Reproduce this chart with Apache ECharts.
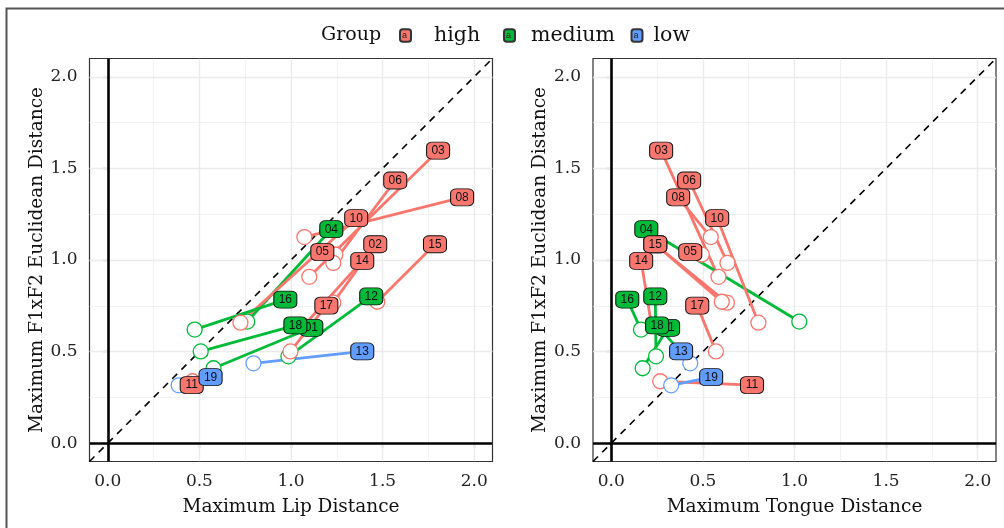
<!DOCTYPE html>
<html><head><meta charset="utf-8">
<script src="https://cdn.jsdelivr.net/npm/echarts@6/dist/echarts.min.js"></script>
<style>html,body{margin:0;padding:0;background:#fff}#c{width:1004px;height:528px}</style>
</head><body><div id="c"></div>
<script>
// ---- data ----
const ids      = ['01','02','03','04','05','06','08','10','11','12','13','14','15','16','17','18','19'];
const groups   = ['medium','high','high','medium','high','high','high','high','high','medium','low','high','high','medium','high','medium','low'];
// labelled point (box)
const labelY   = [0.630,1.086,1.597,1.168,1.043,1.434,1.342,1.228,0.317,0.801,0.501,0.995,1.086,0.784,0.751,0.643,0.360];
const labelLip = [1.111,1.460,1.803,1.220,1.171,1.569,1.934,1.356,0.458,1.438,1.389,1.389,1.786,0.969,1.193,1.024,0.561];
const labelTon = [0.310,0.240,0.272,0.191,0.431,0.425,0.365,0.578,0.768,0.240,0.381,0.163,0.240,0.087,0.469,0.250,0.545];
// open circle
const circY    = [0.409,0.767,0.908,0.664,1.030,0.984,1.125,0.658,0.338,0.474,0.436,0.640,0.772,0.620,0.501,0.501,0.316];
const circLip  = [0.577,1.231,1.100,0.761,1.242,1.231,1.073,0.724,0.463,0.986,0.795,1.068,1.471,0.474,0.997,0.507,0.387];
const circTon  = [0.171,0.631,0.585,1.026,0.494,0.634,0.543,0.803,0.267,0.244,0.431,0.220,0.603,0.162,0.571,0.376,0.327];

const groupNames = ['high','medium','low'];
const groupColors = ['#F8766D','#00BA38','#619CFF'];
const tickValues = [0, 0.5, 1, 1.5, 2];
const tickLabels = ['0.0','0.5','1.0','1.5','2.0'];
const minorValues = [0.25, 0.75, 1.25, 1.75];
const xTitles = ['Maximum Lip Distance', 'Maximum Tongue Distance'];
const yTitle = 'Maximum F1xF2 Euclidean Distance';
const legendTitle = 'Group';

const colorOf = g => groupColors[groupNames.indexOf(g)];
const SERIF = 'DejaVu Serif';
const LO = -0.1, HI = 2.1;

const grids = [
  {left: 89.5, top: 58.5, width: 403, height: 403, show: true, borderColor: '#333', borderWidth: 1.2, backgroundColor: 'transparent'},
  {left: 593, top: 58.5, width: 403, height: 403, show: true, borderColor: '#333', borderWidth: 1.2, backgroundColor: 'transparent'}
];
const tickFmt = v => { const i = tickValues.indexOf(Math.round(v * 100) / 100); return i >= 0 ? tickLabels[i] : ''; };

function mkAxis(i, isX) {
  return {
    gridIndex: i, type: 'value', min: LO, max: HI,
    name: isX ? xTitles[i] : yTitle, nameLocation: 'middle', nameGap: isX ? 36 : 42,
    nameTextStyle: {fontFamily: SERIF, fontSize: 18.5, color: '#111'},
    axisLine: {show: false},
    axisTick: {show: true, length: 5, lineStyle: {color: '#333', width: 1.2}, customValues: tickValues},
    axisLabel: {show: true, margin: isX ? 11.5 : 12, fontFamily: SERIF, fontSize: 17, color: '#222',
      customValues: tickValues, formatter: tickFmt},
    splitLine: {show: false}
  };
}

const series = [];
[0, 1].forEach(p => {
  const xs = p === 0 ? labelLip : labelTon;
  const cxs = p === 0 ? circLip : circTon;
  // grid lines
  const gl = [];
  minorValues.forEach(v => {
    gl.push({coords: [[v, LO], [v, HI]], lineStyle: {width: 0.7}});
    gl.push({coords: [[LO, v], [HI, v]], lineStyle: {width: 0.7}});
  });
  tickValues.forEach(v => {
    gl.push({coords: [[v, LO], [v, HI]], lineStyle: {width: 1.4}});
    gl.push({coords: [[LO, v], [HI, v]], lineStyle: {width: 1.4}});
  });
  series.push({type: 'lines', coordinateSystem: 'cartesian2d', xAxisIndex: p, yAxisIndex: p, silent: true, z: 1,
    lineStyle: {color: '#ebebeb', opacity: 1}, data: gl});
  // zero lines
  series.push({type: 'lines', coordinateSystem: 'cartesian2d', xAxisIndex: p, yAxisIndex: p, silent: true, z: 2,
    lineStyle: {color: '#000', width: 2.6, opacity: 1},
    data: [{coords: [[0, LO], [0, HI]]}, {coords: [[LO, 0], [HI, 0]]}]});
  // identity line
  series.push({type: 'lines', coordinateSystem: 'cartesian2d', xAxisIndex: p, yAxisIndex: p, silent: true, z: 3,
    lineStyle: {color: '#000', width: 1.6, type: [7, 6], opacity: 1},
    data: [{coords: [[LO, LO], [HI, HI]]}]});
  // segments
  series.push({type: 'lines', coordinateSystem: 'cartesian2d', xAxisIndex: p, yAxisIndex: p, silent: true, z: 4,
    data: ids.map((id, k) => ({coords: [[cxs[k], circY[k]], [xs[k], labelY[k]]],
      lineStyle: {color: colorOf(groups[k]), width: 2.8, opacity: 1}}))});
  // circles
  series.push({type: 'scatter', xAxisIndex: p, yAxisIndex: p, silent: true, z: 5, symbol: 'circle', symbolSize: 15,
    data: ids.map((id, k) => ({value: [cxs[k], circY[k]],
      itemStyle: {color: '#fff', borderColor: colorOf(groups[k]), borderWidth: 1.3, opacity: 1}}))});
  // labels: one series per subject so later boxes cover earlier ones (box + text together)
  ids.forEach((id, k) => {
    series.push({type: 'scatter', xAxisIndex: p, yAxisIndex: p, silent: true, z: 10 + k, symbol: 'roundRect', symbolSize: [23, 17],
      data: [{name: id, value: [xs[k], labelY[k]],
        itemStyle: {color: colorOf(groups[k]), borderColor: '#111', borderWidth: 0.9, opacity: 1}}],
      label: {show: true, position: 'inside', formatter: pr => pr.name, fontFamily: 'Liberation Sans', fontSize: 12, color: '#111'}});
  });
});
// legend carriers
groupNames.forEach((g, i) => {
  series.push({type: 'scatter', name: g, xAxisIndex: 0, yAxisIndex: 0, data: [], symbol: 'roundRect',
    itemStyle: {color: groupColors[i], borderColor: '#333', borderWidth: 0.8, opacity: 1}});
});

const keyLeft = [399, 503, 630.5];
const textPad = [18, 11, 6];
const legends = groupNames.map((g, i) => ({
  data: [g], left: keyLeft[i], top: 25, itemWidth: 11, itemHeight: 12.5, icon: 'roundRect',
  selectedMode: false, padding: 0,
  textStyle: {fontFamily: SERIF, fontSize: 20.5, color: '#111', padding: [0, 0, 0, textPad[i]]}
}));

const option = {
  animation: false,
  backgroundColor: '#fff',
  grid: grids,
  xAxis: [mkAxis(0, true), mkAxis(1, true)],
  yAxis: [mkAxis(0, false), mkAxis(1, false)],
  legend: legends,
  series: series,
  graphic: [
    {type: 'rect', shape: {x: 6.5, y: 8.5, width: 1200, height: 800}, style: {fill: 'none', stroke: '#555', lineWidth: 2}, silent: true},
    {type: 'text', left: 321, top: 26, style: {text: legendTitle, fontFamily: SERIF, fontSize: 19, fill: '#111'}},
    ...keyLeft.map(x => ({type: 'text', x: x + 5.5, y: 35.5, z: 100,
      style: {text: 'a', fontFamily: 'Liberation Sans', fontSize: 9, fill: '#222', align: 'center', verticalAlign: 'middle'}}))
  ]
};
const chart = echarts.init(document.getElementById('c'), null, {renderer: 'canvas'});
chart.setOption(option);
</script></body></html>
